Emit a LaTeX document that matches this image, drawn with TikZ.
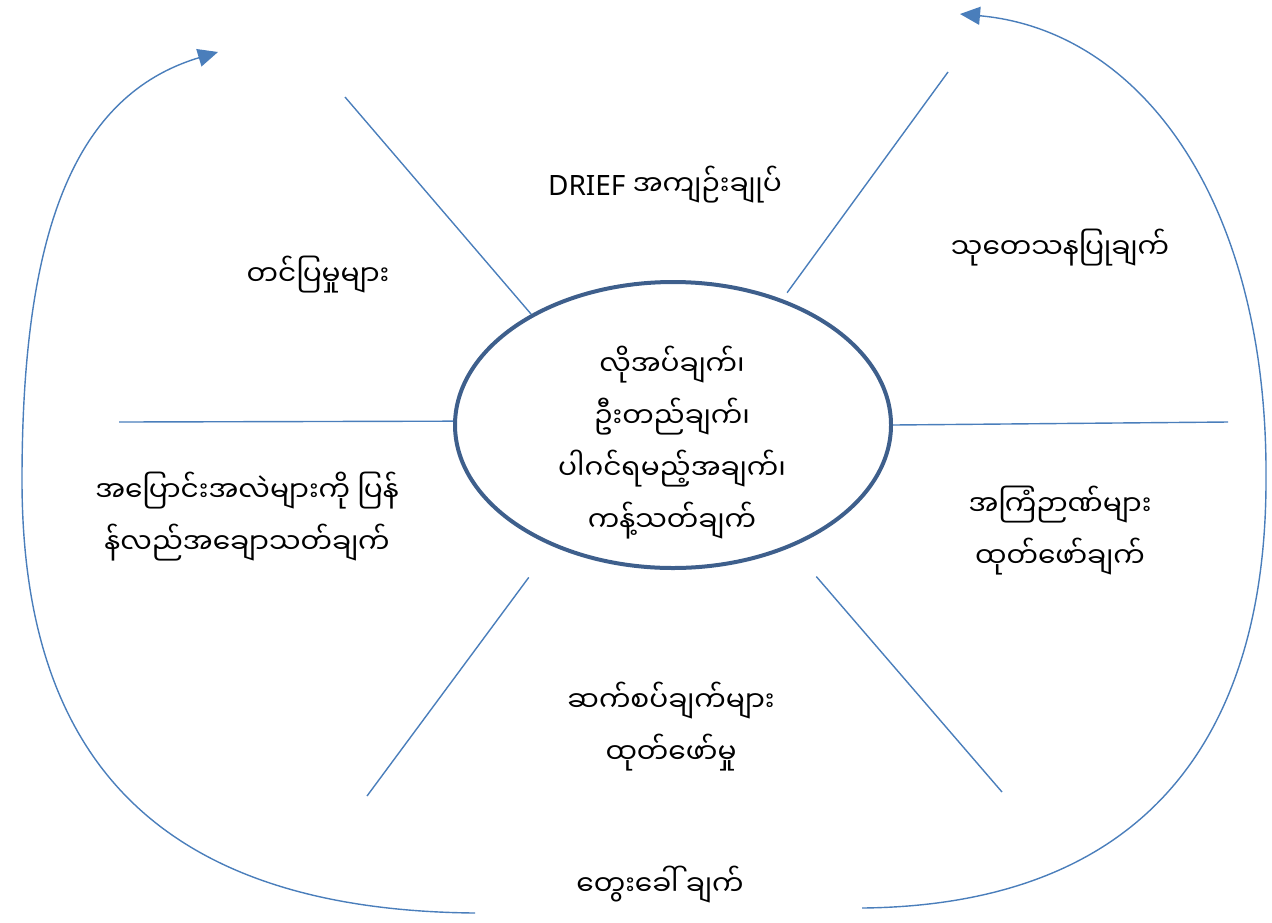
\documentclass[tikz,border=0pt]{standalone}
\usepackage{fontspec}
\setmainfont{Noto Sans}
\newfontfamily\mmfont[Script=Myanmar]{Noto Sans Myanmar UI}
\usepackage{tikz}
\usetikzlibrary{shapes.geometric, arrows.meta}
\definecolor{spokeblue}{HTML}{4A7EBB}
\definecolor{rimblue}{HTML}{3E5F8C}

\begin{document}
\begin{tikzpicture}[x=0.5pt, y=-0.5pt,
    spokeline/.style={draw=spokeblue, line width=0.7pt},
    backarc/.style={draw=spokeblue, line width=0.7pt, -{Triangle[length=10pt, width=9pt]}},
    lbl/.style={font=\fontsize{14}{26}\selectfont, align=center, inner sep=0pt},
    hub/.style={ellipse, draw=rimblue, line width=2pt, minimum width=218pt, minimum height=143pt, inner sep=0pt}]
    \useasboundingbox (0,0) rectangle (1272,922);

    \node[hub] (hub) at (673,425) {};
    \node[lbl] (needs) at (672,443) {\mmfont လိုအပ်ချက်၊\\ \mmfont ဦးတည်ချက်၊\\ \mmfont ပါဂင်ရမည့်အချက်၊\\ \mmfont ကန့်သတ်ချက်};

    \coordinate (ulend) at (345,97);
    \coordinate (urend) at (948,72);
    \coordinate (lend) at (119,422);
    \coordinate (rend) at (1228,422);
    \coordinate (llend) at (367,796);
    \coordinate (lrend) at (1002,792);

    \path[spokeline]
        (hub.142) edge (ulend)
        (hub.49.5) edge[shorten <=4pt] (urend)
        (hub.179) edge (lend)
        (hub.0) edge (rend)
        (hub.225.5) edge[shorten <=19.5pt] (llend)
        (hub.314.4) edge[shorten <=19.3pt] (lrend);

    \node[lbl] (brief) at (665,185) {DRIEF {\mmfont အကျဉ်းချုပ်}};
    \node[lbl] (research) at (1060,248) {\mmfont သုတေသနပြုချက်};
    \node[lbl] (present) at (318,275) {\mmfont တင်ပြမှုများ};
    \node[lbl] (review) at (247,517) {\mmfont အပြောင်းအလဲများကို ပြန်\\ \mmfont န်လည်အချောသတ်ချက်};
    \node[lbl] (advice) at (1060,531) {\mmfont အကြံဉာဏ်များ\\ \mmfont ထုတ်ဖော်ချက်};
    \node[lbl] (links) at (671,727) {\mmfont ဆက်စပ်ချက်များ\\ \mmfont ထုတ်ဖော်မှု};
    \node[lbl] (thought) at (660,885) {\mmfont တွေးခေါ် ချက်};

    \coordinate (lfoot) at (475,913);
    \coordinate (ltip) at (218,52);
    \coordinate (rfoot) at (862,908);
    \coordinate (rtip) at (960,14);

    \draw[backarc] (lfoot) .. controls (140,910) and (22,740) .. (22,480)
        .. controls (22,230) and (75,95) .. (ltip);
    \draw[backarc] (rfoot) .. controls (1160,905) and (1266,720) .. (1266,480)
        .. controls (1268,200) and (1140,30) .. (rtip);
\end{tikzpicture}
\end{document}
